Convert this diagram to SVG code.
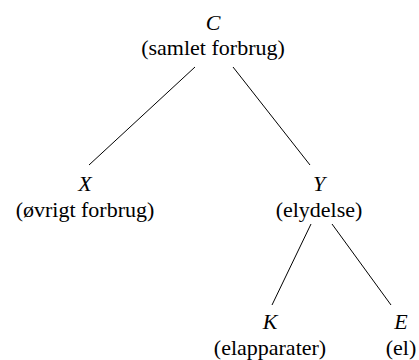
<svg xmlns="http://www.w3.org/2000/svg" width="419" height="360" viewBox="0 0 419 360">
<style>
text{font-family:"Liberation Serif","Times New Roman",serif;font-size:22px;fill:#000;text-anchor:middle}
.v{font-style:italic}
.e line{stroke:#000;stroke-width:1}
</style>
<rect width="419" height="360" fill="#fff"/>
<g class="e" id="connectors">
<line x1="195" y1="67" x2="89" y2="165"/>
<line x1="233" y1="67" x2="310" y2="165"/>
<line x1="311" y1="224" x2="272" y2="305"/>
<line x1="332" y1="224" x2="391" y2="305"/>
</g>
<g id="C"><text class="v" x="213" y="30">C</text><text x="213" y="55">(samlet forbrug)</text></g>
<g id="X"><text class="v" x="85" y="191">X</text><text x="85" y="217">(øvrigt forbrug)</text></g>
<g id="Y"><text class="v" x="319" y="191">Y</text><text x="319" y="217">(elydelse)</text></g>
<g id="K"><text class="v" x="270" y="329">K</text><text x="270" y="355">(elapparater)</text></g>
<g id="E"><text class="v" x="401" y="329">E</text><text x="401" y="355">(el)</text></g>
</svg>
